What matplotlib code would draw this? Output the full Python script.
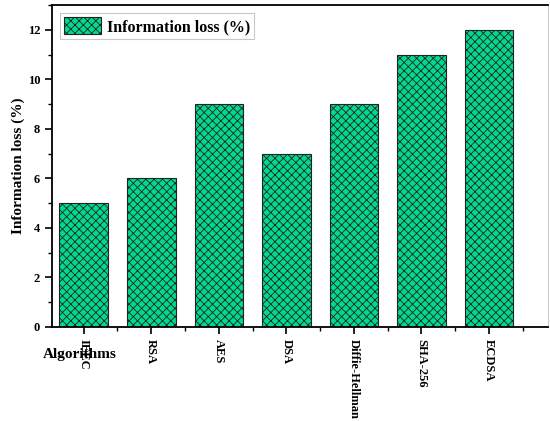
import matplotlib
matplotlib.use("Agg")
import matplotlib.pyplot as plt
from matplotlib.ticker import MultipleLocator, FixedLocator

plt.rcParams["font.family"] = ["Liberation Serif", "DejaVu Serif"]
plt.rcParams["font.weight"] = "bold"
plt.rcParams["hatch.linewidth"] = 0.6
plt.rcParams["hatch.color"] = "#0d3322"

algorithms = ["IEEC", "RSA", "AES", "DSA", "Diffie-Hellman", "SHA-256", "ECDSA"]
info_loss = [5, 6, 9, 7, 9, 11, 12]

fig = plt.figure(figsize=(5.5, 4.21), dpi=100)
ax = fig.add_axes([0.0945, 0.2233, 0.9015, 0.7647])

x = range(len(algorithms))
ax.bar(x, info_loss, width=0.72, color="#00d98e", edgecolor="#222222",
       hatch="xxxx", linewidth=0.8, label="Information loss (%)")

ax.set_xlim(-0.47, 6.87)
ax.set_ylim(0, 13)
ax.set_xticks(list(x))
ax.set_xticklabels(algorithms, rotation=270, fontsize=9, fontweight="bold")
ax.xaxis.set_minor_locator(FixedLocator([i + 0.5 for i in range(-1, 7)]))
ax.yaxis.set_major_locator(MultipleLocator(2))
ax.yaxis.set_minor_locator(MultipleLocator(1))
ax.tick_params(axis="both", which="major", length=5, width=1.2, direction="out", labelsize=9)
ax.tick_params(axis="both", which="minor", length=3, width=1.0, direction="out")
for lab in ax.get_yticklabels():
    lab.set_fontweight("bold")

ax.spines["left"].set_linewidth(1.3)
ax.spines["bottom"].set_linewidth(1.3)
ax.spines["top"].set_linewidth(1.3)
ax.spines["right"].set_color("#cccccc")
ax.spines["right"].set_linewidth(0.8)

ax.set_ylabel("Information loss (%)", fontsize=11, fontweight="bold", labelpad=2)
ax.text(-0.018, -0.065, "Algorithms", transform=ax.transAxes, fontsize=11,
        fontweight="bold", ha="left", va="top")

leg = ax.legend(loc="upper left", fontsize=11.5, frameon=True, fancybox=False,
                handlelength=2.3, handleheight=1.3, handletextpad=0.4,
                borderpad=0.25, borderaxespad=0.5)
leg.get_frame().set_edgecolor("#bbbbbb")
leg.get_frame().set_linewidth(0.8)
for t in leg.get_texts():
    t.set_fontweight("bold")

fig.savefig("out.png", dpi=100)
